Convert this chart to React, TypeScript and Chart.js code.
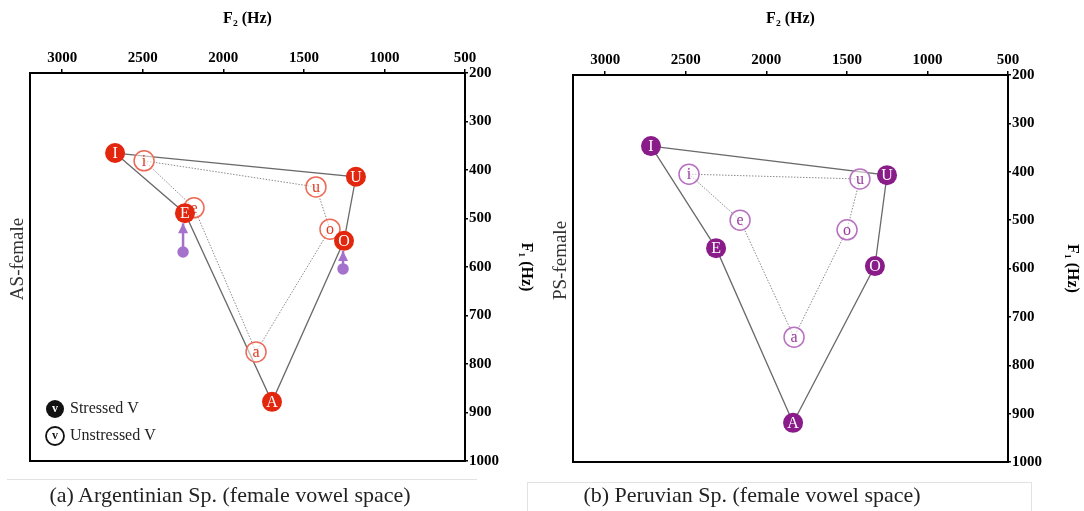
import React, { useEffect, useRef } from 'react';
import { Chart, registerables } from 'chart.js';

Chart.register(...registerables);

// ---- tick values ----
const xTickValues = [500, 1000, 1500, 2000, 2500, 3000];
const yTickValues = [200, 300, 400, 500, 600, 700, 800, 900, 1000];

// ---- (a) Argentinian Spanish, female ----
const asStressedLabels = ['I', 'U', 'O', 'A', 'E'];
const asStressedF2 = [2672, 1177, 1251, 1698, 2238];
const asStressedF1 = [365, 414, 546, 878, 489];
const asUnstressedLabels = ['i', 'u', 'o', 'a', 'e'];
const asUnstressedF2 = [2492, 1425, 1338, 1797, 2182];
const asUnstressedF1 = [381, 435, 522, 775, 478];
const asArrowF2 = [2250, 1257];
const asArrowFromF1 = [569, 604];
const asArrowToF1 = [510, 567];

// ---- (b) Peruvian Spanish, female ----
const psStressedLabels = ['I', 'U', 'O', 'A', 'E'];
const psStressedF2 = [2716, 1251, 1326, 1834, 2312];
const psStressedF1 = [347, 407, 595, 919, 558];
const psUnstressedLabels = ['i', 'u', 'o', 'a', 'e'];
const psUnstressedF2 = [2480, 1419, 1499, 1828, 2163];
const psUnstressedF1 = [405, 415, 520, 742, 500];

const SERIF = '"Liberation Serif", "DejaVu Serif", serif';

type Panel = {
  side: string;
  stressedLabels: string[];
  stressedF2: number[];
  stressedF1: number[];
  unstressedLabels: string[];
  unstressedF2: number[];
  unstressedF1: number[];
  arrowF2: number[];
  arrowFrom: number[];
  arrowTo: number[];
  fill: string;
  openStroke: string;
  openText: string;
  arrowColor: string;
  legend: boolean;
  padLeft: number;
  padBottom: number;
  xHeight: number;
  yWidth: number;
  yTitlePad: number;
  width: number;
};

const toPts = (xs: number[], ys: number[]) => xs.map((x, i) => ({ x, y: ys[i] }));

const panelPlugin = {
  id: 'panelPlugin',
  afterDatasetDraw(chart: any, args: any) {
    const ds: any = chart.data.datasets[args.index];
    const ctx = chart.ctx;
    const meta = args.meta;
    if (ds.letters) {
      ctx.save();
      ctx.font = `${ds.letterSize}px ${SERIF}`;
      ctx.fillStyle = ds.letterColor;
      ctx.textAlign = 'center';
      ctx.textBaseline = 'middle';
      meta.data.forEach((pt: any, i: number) => {
        ctx.fillText(ds.letters[i], pt.x, pt.y + 1);
      });
      ctx.restore();
    }
    if (ds.arrowHead) {
      const tip = meta.data[meta.data.length - 1];
      ctx.save();
      ctx.fillStyle = ds.borderColor;
      ctx.beginPath();
      ctx.moveTo(tip.x, tip.y);
      ctx.lineTo(tip.x - 5, tip.y + 10);
      ctx.lineTo(tip.x + 5, tip.y + 10);
      ctx.closePath();
      ctx.fill();
      ctx.restore();
    }
  },
  afterDraw(chart: any) {
    const opts: any = chart.options.plugins.panelPlugin;
    const { left, top, right, bottom } = chart.chartArea;
    const ctx = chart.ctx;
    ctx.save();
    ctx.strokeStyle = '#000';
    ctx.lineWidth = 2;
    ctx.strokeRect(left, top, right - left, bottom - top);
    // side label
    ctx.translate(left - 12, (top + bottom) / 2 - 8);
    ctx.rotate(-Math.PI / 2);
    ctx.font = `19px ${SERIF}`;
    ctx.fillStyle = '#333';
    ctx.textAlign = 'center';
    ctx.textBaseline = 'middle';
    ctx.fillText(opts.side, 0, 0);
    ctx.restore();
    if (opts.legend) {
      const rows = [
        { y: bottom - 52, filled: true, text: 'Stressed V' },
        { y: bottom - 25, filled: false, text: 'Unstressed V' },
      ];
      rows.forEach((r) => {
        const cx = left + 25;
        ctx.save();
        ctx.beginPath();
        ctx.arc(cx, r.y, 9, 0, Math.PI * 2);
        if (r.filled) {
          ctx.fillStyle = '#111';
          ctx.fill();
        } else {
          ctx.lineWidth = 1.8;
          ctx.strokeStyle = '#111';
          ctx.stroke();
        }
        ctx.font = `bold 12px ${SERIF}`;
        ctx.fillStyle = r.filled ? '#fff' : '#111';
        ctx.textAlign = 'center';
        ctx.textBaseline = 'middle';
        ctx.fillText('v', cx, r.y);
        ctx.font = `16px ${SERIF}`;
        ctx.fillStyle = '#222';
        ctx.textAlign = 'left';
        ctx.fillText(r.text, cx + 15, r.y);
        ctx.restore();
      });
    }
  },
};

function VowelChart({ p }: { p: Panel }) {
  const ref = useRef<HTMLCanvasElement>(null);
  useEffect(() => {
    if (!ref.current) return;
    const stressed = toPts(p.stressedF2, p.stressedF1);
    const unstressed = toPts(p.unstressedF2, p.unstressedF1);
    const datasets: any[] = [
      {
        data: [...stressed, stressed[0]],
        showLine: true,
        pointRadius: 0,
        borderColor: '#6a6a6a',
        borderWidth: 1.3,
        order: 10,
      },
      {
        data: [...unstressed, unstressed[0]],
        showLine: true,
        pointRadius: 0,
        borderColor: '#8a8a8a',
        borderWidth: 1,
        borderDash: [1.5, 1.5],
        order: 9,
      },
    ];
    p.arrowF2.forEach((x, i) => {
      datasets.push({
        data: [
          { x, y: p.arrowFrom[i] },
          { x, y: p.arrowTo[i] },
        ],
        showLine: true,
        pointRadius: [4.5, 0],
        pointBackgroundColor: p.arrowColor,
        pointBorderColor: p.arrowColor,
        borderColor: p.arrowColor,
        borderWidth: 2.5,
        arrowHead: true,
        order: 8,
      });
    });
    datasets.push({
      data: unstressed,
      pointRadius: 10,
      pointBackgroundColor: 'rgba(255,255,255,0.55)',
      pointBorderColor: p.openStroke,
      pointBorderWidth: 1.5,
      letters: p.unstressedLabels,
      letterColor: p.openText,
      letterSize: 16,
      order: 3,
    });
    datasets.push({
      data: stressed,
      pointRadius: 10,
      pointBackgroundColor: p.fill,
      pointBorderColor: p.fill,
      pointBorderWidth: 0,
      letters: p.stressedLabels,
      letterColor: '#fff',
      letterSize: 16,
      order: 1,
    });

    const chart = new Chart(ref.current, {
      type: 'scatter',
      data: { datasets },
      plugins: [panelPlugin],
      options: {
        animation: false,
        responsive: false,
        layout: { padding: { left: p.padLeft, top: 0, right: 0, bottom: p.padBottom } },
        plugins: {
          legend: { display: false },
          tooltip: { enabled: false },
          panelPlugin: { side: p.side, legend: p.legend },
        } as any,
        scales: {
          x: {
            type: 'linear',
            position: 'top',
            min: 500,
            max: 3200,
            reverse: true,
            afterBuildTicks: (s: any) => {
              s.ticks = xTickValues.map((v) => ({ value: v }));
            },
            afterFit: (s: any) => {
              s.height = p.xHeight;
            },
            ticks: {
              color: '#000',
              font: { family: SERIF, size: 15, weight: 'bold' },
              padding: 2,
              maxRotation: 0,
              callback: (v: any) => String(v),
            },
            grid: { drawOnChartArea: false, drawTicks: true, tickLength: 4, color: '#000', lineWidth: 1.5 },
            border: { display: true, color: '#000', width: 2 },
            title: {
              display: true,
              text: 'F₂ (Hz)',
              color: '#000',
              font: { family: SERIF, size: 16, weight: 'bold' },
              padding: { top: 9, bottom: 0 },
            },
          },
          y: {
            type: 'linear',
            position: 'right',
            min: 200,
            max: 1000,
            reverse: true,
            afterBuildTicks: (s: any) => {
              s.ticks = yTickValues.map((v) => ({ value: v }));
            },
            afterFit: (s: any) => {
              s.width = p.yWidth;
            },
            ticks: {
              color: '#000',
              font: { family: SERIF, size: 15, weight: 'bold' },
              padding: 1,
              callback: (v: any) => String(v),
            },
            grid: { drawOnChartArea: false, drawTicks: true, tickLength: 3, color: '#000', lineWidth: 1.5 },
            border: { display: true, color: '#000', width: 2 },
            title: {
              display: true,
              text: 'F₁ (Hz)',
              color: '#000',
              font: { family: SERIF, size: 16, weight: 'bold' },
              padding: { top: p.yTitlePad, bottom: 0 },
            },
          },
        },
      } as any,
    });
    return () => chart.destroy();
  }, [p]);
  return <canvas ref={ref} width={p.width} height={480} style={{ display: 'block' }} />;
}

const panelA: Panel = {
  side: 'AS-female',
  stressedLabels: asStressedLabels,
  stressedF2: asStressedF2,
  stressedF1: asStressedF1,
  unstressedLabels: asUnstressedLabels,
  unstressedF2: asUnstressedF2,
  unstressedF1: asUnstressedF1,
  arrowF2: asArrowF2,
  arrowFrom: asArrowFromF1,
  arrowTo: asArrowToF1,
  fill: '#E3260E',
  openStroke: '#EC6B57',
  openText: '#E3391F',
  arrowColor: '#A472CC',
  legend: true,
  padLeft: 30,
  padBottom: 19,
  xHeight: 73,
  yWidth: 75,
  yTitlePad: 4,
  width: 540,
};

const panelB: Panel = {
  side: 'PS-female',
  stressedLabels: psStressedLabels,
  stressedF2: psStressedF2,
  stressedF1: psStressedF1,
  unstressedLabels: psUnstressedLabels,
  unstressedF2: psUnstressedF2,
  unstressedF1: psUnstressedF1,
  arrowF2: [],
  arrowFrom: [],
  arrowTo: [],
  fill: '#8A1C8A',
  openStroke: '#B870C0',
  openText: '#9A3A9E',
  arrowColor: '#A472CC',
  legend: false,
  padLeft: 33,
  padBottom: 18,
  xHeight: 75,
  yWidth: 76,
  yTitlePad: 2,
  width: 544,
};

export default function App() {
  return (
    <div style={{ position: 'fixed', left: 0, top: 0, width: 1084, height: 511, background: '#fff', overflow: 'hidden' }}>
      <div style={{ position: 'absolute', left: 0, top: 0 }}>
        <VowelChart p={panelA} />
      </div>
      <div style={{ position: 'absolute', left: 540, top: 0 }}>
        <VowelChart p={panelB} />
      </div>
      <div style={{ position: 'absolute', left: 7, top: 479, width: 470, borderTop: '1px solid #e2e2e2' }} />
      <div
        style={{
          position: 'absolute', left: 0, top: 481, width: 460, textAlign: 'center',
          fontFamily: SERIF, fontSize: 22, color: '#222', lineHeight: '28px',
        }}
      >
        (a) Argentinian Sp. (female vowel space)
      </div>
      <div
        style={{
          position: 'absolute', left: 527, top: 482, width: 505, height: 40,
          border: '1px solid #e2e2e2', boxSizing: 'border-box',
        }}
      />
      <div
        style={{
          position: 'absolute', left: 527, top: 481, width: 450, textAlign: 'center',
          fontFamily: SERIF, fontSize: 22, color: '#222', lineHeight: '28px',
        }}
      >
        (b) Peruvian Sp. (female vowel space)
      </div>
    </div>
  );
}
